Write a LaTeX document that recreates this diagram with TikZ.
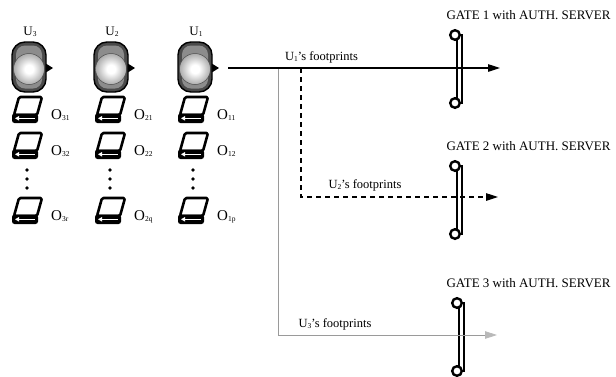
\documentclass[tikz,border=0pt]{standalone}
\usepackage{fontspec}
\setmainfont{Liberation Serif}
\usetikzlibrary{arrows.meta}

\definecolor{hooddark}{HTML}{4A4A4A}
\definecolor{hoodmid}{HTML}{8C8C8C}
\definecolor{pathgray}{HTML}{9A9A9A}

% shaded head of a user icon
\pgfdeclareradialshading{headball}{\pgfpoint{0bp}{0bp}}{%
  color(0bp)=(white); color(7bp)=(white); color(18bp)=(gray!40);
  color(25bp)=(gray!65); color(50bp)=(gray!65)}

% small lowered index, as in U_1 or O_{11}
\newcommand{\lowidx}[1]{\raisebox{-0.25ex}{\fontsize{7.5}{8}\selectfont #1}}

\tikzset{
  x=1pt, y=-1pt,
  % user: hooded head with a pointer to the right
  userpic/.pic={
    \fill[black] (16,-5) -- (24,0) -- (16,5) -- cycle;
    \draw[line width=1.4, fill=hooddark, rounded corners=13] (-17,-26) rectangle (17,24);
    \fill[hoodmid, rounded corners=9] (-13,-22.5) rectangle (13,20.5);
    \shade[shading=headball] (0,1) circle (15.5);
    \draw[black!70, line width=0.5] (0,1) circle (15.5);
  },
  % object: a small book
  bookpic/.pic={
    \draw[line width=2.6, fill=white, rounded corners=1.5, line join=round]
      (-8,-13) -- (15,-13) -- (10,5) -- (-13,5) -- cycle;
    \fill[black, rounded corners=2.5] (-15,3.5) rectangle (11,13);
    \draw[white, line width=1.3] (-8,8.3) -- (8,8.3);
    \fill[white] (-12,8.3) -- (-8,6) -- (-8,10.6) -- cycle;
  },
  % gate: two posts joined by a bar
  gatepic/.pic={
    \draw[line width=1.6, fill=white] (2,0) rectangle (7,68);
    \draw[line width=2.4, fill=white] (0,0) circle (4.8);
    \draw[line width=2.4, fill=white] (0,68) circle (4.8);
  },
  ulabel/.style={font=\fontsize{13}{15}\selectfont, anchor=base, inner sep=0pt},
  olabel/.style={font=\fontsize{15}{17}\selectfont, anchor=base west, inner sep=0pt},
  gatelabel/.style={font=\fontsize{13}{15}\selectfont, anchor=base, inner sep=0pt},
  fplabel/.style={font=\fontsize{12.5}{14}\selectfont, anchor=base, inner sep=0pt},
  dotmark/.style={fill=black, circle, inner sep=0pt, minimum size=3.8pt},
  tip/.style={-{Triangle[length=12pt, width=7.5pt]}},
  mainpath/.style={tip, line width=1.1, black},
  dashpath/.style={tip, line width=1.1, black, dash pattern=on 5pt off 4pt},
  graypath/.style={-{Triangle[length=12pt, width=7.5pt, color=gray!55]}, line width=0.8, pathgray},
}

\begin{document}
\begin{tikzpicture}
\useasboundingbox (0,0) rectangle (616,376);

% users
\pic at (29,68) {userpic};
\pic at (111,68) {userpic};
\pic at (195,68) {userpic};
\node[ulabel] (u3) at (30,35) {U\lowidx{3}};
\node[ulabel] (u2) at (112,35) {U\lowidx{2}};
\node[ulabel] (u1) at (196,35) {U\lowidx{1}};

% objects of each user
\foreach \cx/\k/\last in {27/3/r, 110/2/q, 193/1/p}{
  \pic at (\cx,110) {bookpic};
  \pic at (\cx,146) {bookpic};
  \pic at (\cx,211) {bookpic};
  \node[olabel] (o\k1) at (\cx+24,119) {O\lowidx{\k1}};
  \node[olabel] (o\k2) at (\cx+24,155) {O\lowidx{\k2}};
  \node[olabel] (o\k\last) at (\cx+24,220) {O\lowidx{\k\last}};
  \node[dotmark] (d\k a) at (\cx,170) {};
  \node[dotmark] (d\k b) at (\cx,179) {};
  \node[dotmark] (d\k c) at (\cx,188) {};
}

% gates
\pic at (455,35) {gatepic};
\pic at (455,166) {gatepic};
\pic at (457,303) {gatepic};
\node[gatelabel] (g1) at (528.5,19) {GATE 1 with AUTH. SERVER};
\node[gatelabel] (g2) at (528.5,150) {GATE 2 with AUTH. SERVER};
\node[gatelabel] (g3) at (528.5,287) {GATE 3 with AUTH. SERVER};

% footprint paths
\coordinate (start) at (228,68);
\coordinate (split3) at (278,68);
\coordinate (split2) at (301,68);
\coordinate (end1) at (500,68);
\coordinate (end2) at (498,197);
\coordinate (end3) at (497,335);

\draw[graypath] (split3) |- (end3);
\draw[dashpath] (split2) |- (end2);
\draw[mainpath] (start) -- (end1);

\node[fplabel] (fp1) at (321.5,60.5) {U\lowidx{1}'s footprints};
\node[fplabel] (fp2) at (365,188) {U\lowidx{2}'s footprints};
\node[fplabel] (fp3) at (335,327) {U\lowidx{3}'s footprints};
\end{tikzpicture}
\end{document}
